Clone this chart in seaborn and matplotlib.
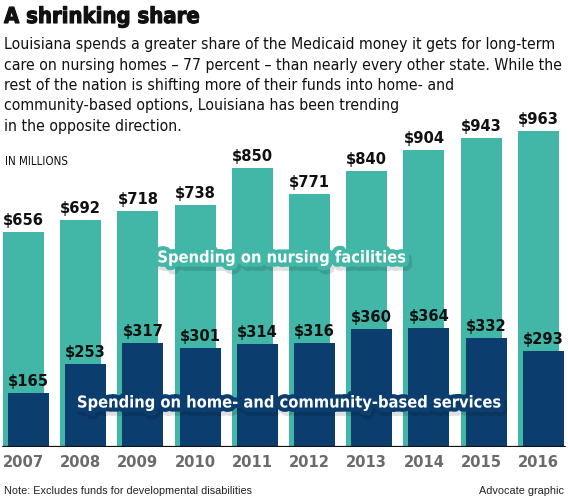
import numpy as np
import pandas as pd
import matplotlib
matplotlib.use("Agg")
import matplotlib.pyplot as plt
import matplotlib.patheffects as pe
import seaborn as sns

# data (millions of dollars)
YEARS = [2007, 2008, 2009, 2010, 2011, 2012, 2013, 2014, 2015, 2016]
NURSING = [656, 692, 718, 738, 850, 771, 840, 904, 943, 963]
HOME_COMMUNITY = [165, 253, 317, 301, 314, 316, 360, 364, 332, 293]

TEAL = "#42b6a7"
NAVY = "#0b3d6f"
GRAY = "#6b6b6b"

W, H = 568, 500

sns.set_theme(style="white")
plt.rcParams["font.family"] = ["DejaVu Sans"]

COND_BOLD = dict(family=["DejaVu Sans"], fontstretch="condensed", fontweight="bold")
COND = dict(family=["DejaVu Sans"], fontstretch="condensed")


def px(x, y):
    """pixel coords (top-left origin) -> figure fraction"""
    return x / W, 1 - y / H


fig = plt.figure(figsize=(W / 100, H / 100), dpi=100)
fig.patch.set_facecolor("white")

# axes placed so the bars land where the reference draws them
unit = 57.2      # px per year
left_px = 23.5   # centre of first bar
ax = fig.add_axes([0, 53 / H, 1, 328 / H])
ax.set_facecolor("none")

df = pd.DataFrame({"year": YEARS, "nursing": NURSING, "home": HOME_COMMUNITY})
offset = 5 / unit
df["year_shift"] = df["year"] + offset

sns.barplot(data=df, x="year", y="nursing", native_scale=True, color=TEAL,
            saturation=1, width=0.717, linewidth=0, edgecolor="none", ax=ax, zorder=2)
sns.barplot(data=df, x="year_shift", y="home", native_scale=True, color=NAVY,
            saturation=1, width=0.717, linewidth=0, edgecolor="none", ax=ax, zorder=3)

ax.set_xlim(YEARS[0] - left_px / unit, YEARS[0] + (W - left_px) / unit)
ax.set_ylim(0, 1000)
ax.set_xlabel("")
ax.set_ylabel("")
ax.set_yticks([])
ax.set_xticks(YEARS)
ax.set_xticklabels([str(y) for y in YEARS], color=GRAY, fontsize=11.8, **COND_BOLD)
ax.tick_params(axis="x", length=0, pad=6)
sns.despine(ax=ax, left=True, bottom=True)
ax.axhline(0, xmin=3 / W, xmax=565 / W, color="#111111", lw=1.6, zorder=4)

ypx = 328 / 1000  # px per million
lift = 7 / ypx
for yr, n, h in zip(YEARS, NURSING, HOME_COMMUNITY):
    ax.text(yr, n + lift, f"${n}", ha="center", va="baseline",
            fontsize=11.8, color="#111111", zorder=5, **COND_BOLD)
    ax.text(yr + offset, h + lift, f"${h}", ha="center", va="baseline",
            fontsize=11.8, color="#111111", zorder=5, **COND_BOLD)


# series labels with glow + soft drop shadow
def glow(colour):
    return [pe.Stroke(offset=(2, -3), linewidth=6, foreground="#000000", alpha=0.12),
            pe.Stroke(linewidth=6, foreground=colour), pe.Normal()]


fig.text(*px(282, 258), "Spending on nursing facilities", ha="center", va="center",
         fontsize=11.8, color="white", path_effects=glow(TEAL), **COND_BOLD)
fig.text(*px(289, 403), "Spending on home- and community-based services", ha="center",
         va="center", fontsize=11.8, color="white", path_effects=glow(NAVY), **COND_BOLD)

# header
fig.text(*px(4, 17), "A shrinking share", ha="left", va="center", fontsize=15.8,
         color="#111111", family=["DejaVu Sans"], fontstretch="condensed",
         fontweight="heavy",
         path_effects=[pe.Stroke(linewidth=0.8, foreground="#111111"), pe.Normal()])
subtitle = [
    "Louisiana spends a greater share of the Medicaid money it gets for long-term",
    "care on nursing homes \u2013 77 percent \u2013 than nearly every other state. While the",
    "rest of the nation is shifting more of their funds into home- and",
    "community-based options, Louisiana has been trending",
    "in the opposite direction.",
]
for i, line in enumerate(subtitle):
    fig.text(*px(4, 45 + i * 20.3), line, ha="left", va="center", fontsize=11.3,
             color="#111111", **COND)

fig.text(*px(5, 161), "IN MILLIONS", ha="left", va="center", fontsize=8.3,
         color="#111111", **COND)

# footer
fig.text(*px(4, 491), "Note: Excludes funds for developmental disabilities",
         ha="left", va="center", fontsize=7.8, color="#222222",
         family=["Liberation Sans", "DejaVu Sans"])
fig.text(*px(564, 491), "Advocate graphic", ha="right", va="center", fontsize=7.8,
         color="#222222", family=["Liberation Sans", "DejaVu Sans"])

fig.savefig("out.png", dpi=100, facecolor="white")
